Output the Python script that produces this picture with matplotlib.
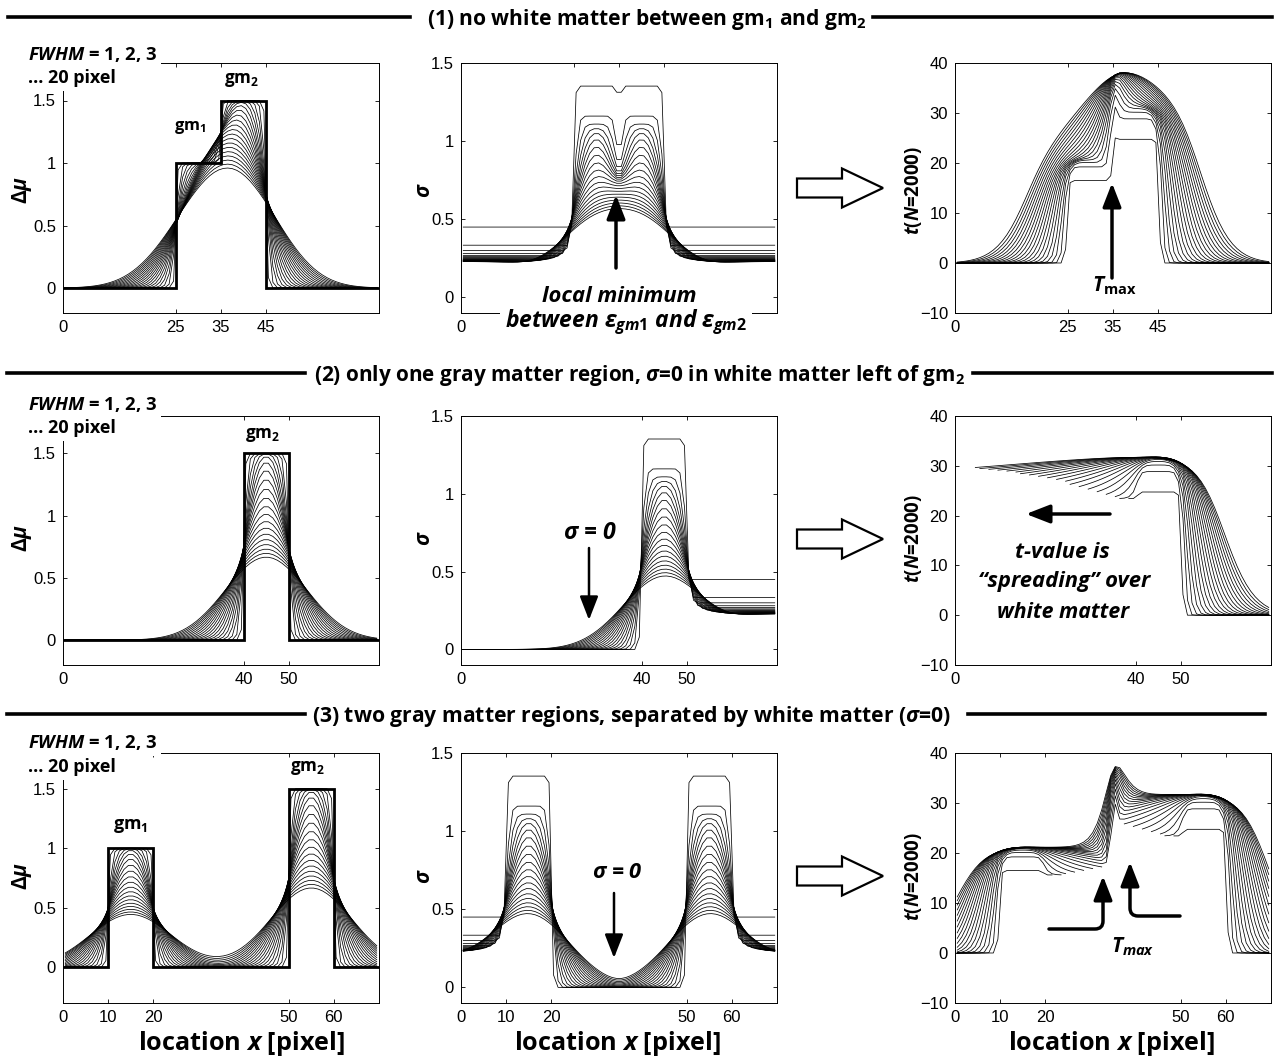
import numpy as np
import matplotlib
matplotlib.use("Agg")
import matplotlib.pyplot as plt
from matplotlib.patches import Polygon, FancyArrowPatch
from matplotlib.lines import Line2D

# ---------------- data ----------------
FWHM = np.arange(1, 21)                 # smoothing kernels (pixel)
X_MIN, X_MAX = 0, 70                    # plotted locations (pixel)
SIM_PIXELS = np.arange(-45, 115)        # simulated pixels, pixel i covers [i, i+1]

# scenario 1: no white matter between gm1 and gm2
gm_start_1 = [25, 35]
gm_end_1 = [35, 45]
gm_dmu_1 = [1.0, 1.5]
wm_noisy_1 = [(-45, 25), (45, 115)]
# scenario 2: one gray matter region, sigma = 0 in white matter left of gm2
gm_start_2 = [40]
gm_end_2 = [50]
gm_dmu_2 = [1.5]
wm_noisy_2 = [(50, 115)]
# scenario 3: two gray matter regions separated by white matter (sigma = 0)
gm_start_3 = [10, 50]
gm_end_3 = [20, 60]
gm_dmu_3 = [1.0, 1.5]
wm_noisy_3 = [(-45, 10), (60, 115)]

# variability
gm_sd_between = 1.0     # between-subject sd of each gray matter region
gm_sd_pixel = 1.02      # pixel-wise sd inside gray matter
wm_sd_between = 0.215   # between-subject sd of noisy white matter
wm_sd_pixel = 0.443     # pixel-wise sd of noisy white matter
t_scale = 22.3          # t(N=2000) = t_scale * dmu / sigma
sigma_floor = 1e-5

xticks_rows = [[0, 25, 35, 45], [0, 40, 50], [0, 10, 20, 50, 60]]
yticks_dmu = [0, 0.5, 1, 1.5]
yticklabels_dmu = ["0", "0.5", "1", "1.5"]
yticks_t = [-10, 0, 10, 20, 30, 40]
yticklabels_t = ["\u221210", "0", "10", "20", "30", "40"]


def simulate(gm_start, gm_end, gm_dmu, wm_noisy):
    pix = SIM_PIXELS
    centers = pix + 0.5
    mu = np.zeros(len(pix))
    psd = np.zeros(len(pix))
    regions = []
    for a, b, d in zip(gm_start, gm_end, gm_dmu):
        m = (pix >= a) & (pix < b)
        mu[m] = d
        psd[m] = gm_sd_pixel
        regions.append((m, gm_sd_between))
    for a, b in wm_noisy:
        m = (pix >= a) & (pix < b)
        psd[m] = wm_sd_pixel
        regions.append((m, wm_sd_between))
    D = centers[:, None] - centers[None, :]
    keep = (centers > X_MIN) & (centers < X_MAX)
    curves = []
    for f in FWHM:
        sk = f / (2 * np.sqrt(2 * np.log(2)))
        K = np.exp(-D ** 2 / (2 * sk ** 2))
        K /= K.sum(axis=1, keepdims=True)
        dmu = K @ mu
        var = (K ** 2) @ psd ** 2
        for m, sd in regions:
            var = var + (sd * K[:, m].sum(axis=1)) ** 2
        sig = np.sqrt(var)
        safe = np.where(sig > 0, sig, 1.0)
        t = np.where(sig > sigma_floor, dmu / safe * t_scale, np.nan)
        curves.append((dmu[keep], sig[keep], t[keep]))
    edges = np.append(pix[keep], pix[keep][-1] + 1)
    return centers[keep], mu[keep], edges, curves


scenarios = [
    simulate(gm_start_1, gm_end_1, gm_dmu_1, wm_noisy_1),
    simulate(gm_start_2, gm_end_2, gm_dmu_2, wm_noisy_2),
    simulate(gm_start_3, gm_end_3, gm_dmu_3, wm_noisy_3),
]

# ---------------- figure ----------------
W, H = 1274, 1058
plt.rcParams["font.family"] = ["Liberation Sans", "DejaVu Sans"]
plt.rcParams["mathtext.fontset"] = "custom"
plt.rcParams["mathtext.rm"] = "Open Sans:bold"
plt.rcParams["mathtext.bf"] = "Open Sans:bold"
plt.rcParams["mathtext.it"] = "Open Sans:italic:bold"
plt.rcParams["mathtext.sf"] = "Open Sans:bold"
fig = plt.figure(figsize=(W / 100, H / 100), dpi=100)
renderer = fig.canvas.get_renderer()

BOLD = dict(fontfamily=["Open Sans", "DejaVu Sans"], fontweight="bold")
BOLDIT = dict(fontfamily=["Open Sans", "DejaVu Sans"], fontweight="bold", fontstyle="italic")


def put(px, py, s, width=None, size=12, ha="center", va="center", **kw):
    t = fig.text(px / W, 1 - py / H, s, ha=ha, va=va, fontsize=size, **kw)
    if width is not None:
        bb = t.get_window_extent(renderer)
        t.set_fontsize(size * width / bb.width)
    return t


def add_ax(l, t, r, b):
    return fig.add_axes([l / W, 1 - b / H, (r - l) / W, (b - t) / H])


cols = [(63, 379), (461, 777), (955, 1271)]
rows = [(63, 313), (416, 665), (753, 1003)]
dmu_ylims = [(-0.2, 1.8), (-0.2, 1.8), (-0.3, 1.8)]

for ri, (xc, mu, edges, curves) in enumerate(scenarios):
    top, bot = rows[ri]
    axs = [add_ax(cols[c][0], top, cols[c][1], bot) for c in range(3)]
    for dmu, sig, t in curves:
        axs[0].plot(xc, dmu, color="k", lw=0.55)
        axs[1].plot(xc, sig, color="k", lw=0.55)
        axs[2].plot(xc, t, color="k", lw=0.55)
    axs[0].stairs(mu, edges, baseline=None, color="k", lw=2.0)
    axs[0].set_ylim(*dmu_ylims[ri])
    axs[0].set_yticks(yticks_dmu, yticklabels_dmu)
    axs[1].set_ylim(-0.1, 1.5)
    axs[1].set_yticks(yticks_dmu, yticklabels_dmu)
    axs[2].set_ylim(-10, 40)
    axs[2].set_yticks(yticks_t, yticklabels_t)
    for ci, ax in enumerate(axs):
        ax.set_xlim(X_MIN, X_MAX)
        labels = [str(v) for v in xticks_rows[ri]]
        if ri == 0 and ci == 1:
            # hidden behind the annotation in the reference
            labels = [labels[0]] + [""] * (len(labels) - 1)
        ax.set_xticks(xticks_rows[ri], labels)
        ax.tick_params(direction="in", length=3, width=0.6, top=True, right=True,
                       labelsize=12, pad=5)
        for sp in ax.spines.values():
            sp.set_linewidth(0.7)

# ---------------- headers ----------------
headers = [
    (647, 17, r"(1) no white matter between gm$_1$ and gm$_2$", 439, [(8, 410), (873, 1272)]),
    (640, 373, r"(2) only one gray matter region, $\sigma$=0 in white matter left of gm$_2$", 650,
     [(7, 305), (973, 1272)]),
    (631, 714, r"(3) two gray matter regions, separated by white matter ($\sigma$=0)", 637,
     [(7, 305), (968, 1265)]),
]
for cx, ly, s, w, segs in headers:
    put(cx, ly + 8, s, width=w, size=13, va="baseline", **BOLD)
    for x0, x1 in segs:
        fig.add_artist(Line2D([x0 / W, x1 / W], [1 - ly / H, 1 - ly / H], color="k", lw=2.6))

# ---------------- y labels / x labels ----------------
for ri, cy in enumerate([190, 538, 876]):
    put(22, cy, r"$\Delta\mu$", size=15, rotation=90, **BOLD)
    put(424, cy, r"$\sigma$", size=15, rotation=90, **BOLD)
    put(913, cy, r"$t$($N$=2000)", size=13.5, rotation=90, **BOLD)
for cx in [241, 617, 1111]:
    put(cx, 1043, r"location $x$ [pixel]", width=208, size=14, **BOLD)

# FWHM notes
for y1, y2 in [(54, 78), (405, 428), (743, 767)]:
    put(28, y1, r"$FWHM$ = 1, 2, 3", width=129, size=12, ha="left",
        bbox=dict(fc="white", ec="none", pad=2.5), **BOLD)
    put(28, y2, "... 20 pixel", width=89, size=12, ha="left",
        bbox=dict(fc="white", ec="none", pad=2.5), **BOLD)

# gm labels
put(190, 128, r"gm$_1$", width=32, size=13, **BOLD)
put(242, 80, r"gm$_2$", width=35, size=13, **BOLD)
put(263, 435, r"gm$_2$", width=35, size=13, **BOLD)
put(130, 826, r"gm$_1$", width=35, size=13, **BOLD)
put(308, 768, r"gm$_2$", width=35, size=13, **BOLD)

# annotations
put(619, 296, "local minimum", width=155, size=14, **BOLDIT)
put(626, 322, r"between $\varepsilon_{gm1}$ and $\varepsilon_{gm2}$", width=243, size=14,
    bbox=dict(fc="white", ec="none", pad=3), **BOLDIT)
put(1114, 286, r"$T_{\mathrm{max}}$", size=15, **BOLD)
put(590, 533, r"$\sigma$ = 0", width=54, size=14, **BOLDIT)
put(1062, 552, "t-value is", width=95, size=14, **BOLDIT)
put(1064, 582, "\u201cspreading\u201d over", width=173, size=14, **BOLDIT)
put(1063, 612, "white matter", width=133, size=14, **BOLDIT)
put(617, 873, r"$\sigma$ = 0", width=51, size=14, **BOLDIT)
put(1133, 947, r"$T_{max}$", size=15, **BOLDIT)


def arrow(x0, y0, x1, y1, lw=2.5, conn="arc3", hl=0.9, hw=0.35):
    p = FancyArrowPatch((x0 / W, 1 - y0 / H), (x1 / W, 1 - y1 / H),
                        transform=fig.transFigure,
                        arrowstyle=f"-|>,head_length={hl},head_width={hw}",
                        connectionstyle=conn, lw=lw, color="k",
                        shrinkA=0, shrinkB=0, mutation_scale=16)
    fig.add_artist(p)
    return p


arrow(616, 268, 616, 195)
arrow(1112, 278, 1112, 183)
arrow(589, 548, 589, 620, lw=1.8)
arrow(1110, 514, 1026, 514)
arrow(614, 893, 614, 958, lw=1.8)
arrow(1049, 929, 1103, 876, conn="angle,angleA=0,angleB=90,rad=8")
arrow(1180, 916, 1130, 862, conn="angle,angleA=0,angleB=90,rad=8")

# hollow arrows between sigma and t panels
for cy in [188, 539, 876]:
    pts = [(797, cy - 9.5), (842, cy - 9.5), (842, cy - 19.5), (883, cy),
           (842, cy + 19.5), (842, cy + 9.5), (797, cy + 9.5)]
    fig.add_artist(Polygon([(x / W, 1 - y / H) for x, y in pts], closed=True,
                           transform=fig.transFigure, fc="white", ec="k", lw=1.6))

fig.savefig("out.png", dpi=100)
